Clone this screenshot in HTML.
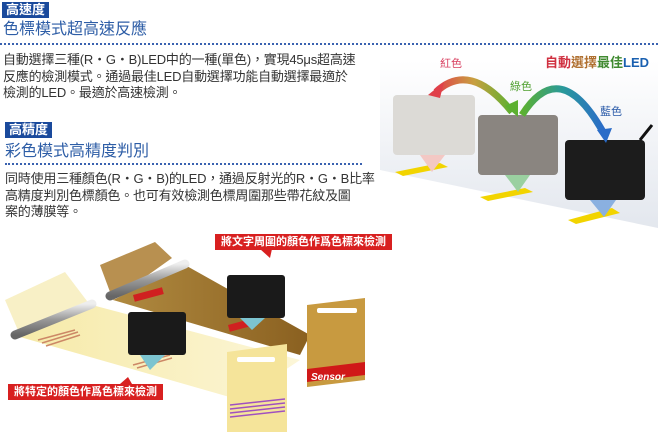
<!DOCTYPE html>
<html><head><meta charset="utf-8"><style>
body{margin:0;width:658px;height:432px;background:#fff;position:relative;overflow:hidden;font-family:"Liberation Sans","Noto Sans CJK TC",sans-serif}
.t{position:absolute;white-space:nowrap}
.tag{position:absolute;background:#1a4a9c;color:#fff;font-weight:bold;font-size:13px;line-height:16px;padding:0 4px}
.h{position:absolute;color:#2d5da6;font-size:16px;line-height:18px;white-space:nowrap}
.p{position:absolute;color:#333;font-size:13px;line-height:16.5px;white-space:nowrap;letter-spacing:-0.2px}
.dot{position:absolute;height:0;border-top:2px dotted #3a62b0}
svg{position:absolute;left:0;top:0}
</style></head><body>
<svg width="658" height="432">
<defs>
<linearGradient id="bg" x1="0" y1="0" x2="0" y2="1"><stop offset="0" stop-color="#fff"/><stop offset="1" stop-color="#e3e7ee"/></linearGradient>
<linearGradient id="a1" x1="0" y1="0" x2="1" y2="0"><stop offset="0" stop-color="#e0404a"/><stop offset="0.5" stop-color="#c8a040"/><stop offset="1" stop-color="#5cb030"/></linearGradient>
<linearGradient id="a2" x1="0" y1="0" x2="1" y2="0"><stop offset="0" stop-color="#5cb030"/><stop offset="0.5" stop-color="#2a9a9a"/><stop offset="1" stop-color="#2a6cc8"/></linearGradient>
<linearGradient id="yl" x1="0" y1="0" x2="1" y2="0"><stop offset="0" stop-color="#f6eaa8"/><stop offset="1" stop-color="#fcf6d8"/></linearGradient>
<linearGradient id="br" x1="0" y1="0" x2="1" y2="0"><stop offset="0" stop-color="#b08a40"/><stop offset="1" stop-color="#8a6020"/></linearGradient>
<linearGradient id="rl" x1="0" y1="0" x2="0" y2="1"><stop offset="0" stop-color="#eee"/><stop offset="0.5" stop-color="#999"/><stop offset="1" stop-color="#666"/></linearGradient>
</defs>
<polygon points="380,60 658,60 658,228 380,170" fill="url(#bg)"/>
<polygon points="395,172 440,163 448,167 403,176" fill="#f2d400"/>
<polygon points="480,197 525,188 533,192 488,201" fill="#f2d400"/>
<polygon points="568,220 612,208 620,213 576,224" fill="#f2d400"/>
<rect x="393" y="95" width="82" height="60" rx="4" fill="#dcdad6"/>
<polygon points="420,155 445,155 432,172" fill="#f3c8c4"/>
<rect x="478" y="115" width="80" height="60" rx="4" fill="#8a8580"/>
<polygon points="505,175 530,175 518,192" fill="#9ad0a0"/>
<rect x="565" y="140" width="80" height="60" rx="4" fill="#1c1c1c"/>
<polygon points="590,200 616,200 604,217" fill="#8ab0e0"/>
<path d="M640,140 L652,125" stroke="#111" stroke-width="3"/>
<path d="M512,112 Q470,60 436,92" stroke="url(#a1)" stroke-width="7" fill="none"/>
<polygon points="428,95 444,82 440,98" fill="#e0404a"/>
<polygon points="518,117 505,106 518,100" fill="#5cb030"/>
<path d="M522,115 Q560,55 603,132" stroke="url(#a2)" stroke-width="7" fill="none"/>
<polygon points="597,130 612,128 606,143" fill="#2a6cc8"/>
<polygon points="5,300 65,272 90,305 20,335" fill="#f6ecb8" opacity="0.8"/>
<polygon points="20,337 92,305 300,360 240,400" fill="url(#yl)"/>
<polygon points="100,265 155,242 172,258 113,300" fill="#b89050"/>
<polygon points="113,300 185,265 310,335 300,355" fill="url(#br)"/>
<path d="M15,335 L92,304" stroke="url(#rl)" stroke-width="9" stroke-linecap="round"/>
<path d="M110,296 L185,264" stroke="url(#rl)" stroke-width="9" stroke-linecap="round"/>
<path d="M38,340 L75,330 M42,343 L78,332 M46,346 L80,335" stroke="#c86" stroke-width="1.5"/>
<path d="M133,365 L170,355 M137,368 L172,358" stroke="#c86" stroke-width="1.5"/>
<rect x="133" y="295" width="30" height="7" fill="#d02020" transform="rotate(-15 133 295)"/>
<rect x="228" y="325" width="30" height="7" fill="#d02020" transform="rotate(-15 228 325)"/>
<rect x="128" y="312" width="58" height="43" rx="3" fill="#1a1a1a"/>
<polygon points="140,355 165,355 150,370" fill="#7cc4d0"/>
<rect x="227" y="275" width="58" height="43" rx="3" fill="#1a1a1a"/>
<polygon points="240,318 265,318 252,330" fill="#7cc4d0"/>
<polygon points="227,352 287,344 287,432 227,432" fill="#f5e49a"/>
<rect x="237" y="357" width="38" height="5" rx="2" fill="#fff"/>
<path d="M230,405 L285,399 M230,409 L285,403 M230,413 L285,407 M230,417 L285,411" stroke="#a050c0" stroke-width="1.5"/>
<polygon points="307,305 365,298 365,380 307,387" fill="#c89a40"/>
<rect x="317" y="308" width="40" height="5" rx="2" fill="#fff"/>
<polygon points="307,369 365,362 365,375 307,382" fill="#d01818"/>
<text x="311" y="380" fill="#fff" font-size="10" font-weight="bold" font-style="italic" font-family="Liberation Sans">Sensor</text>
<polygon points="260,249 272,249 270,258" fill="#d82020"/>
<polygon points="120,384 132,384 128,377" fill="#d82020"/>
</svg>
<div class="tag" style="left:2px;top:2px">高速度</div>
<div class="h" style="left:3px;top:21px">色標模式超高速反應</div>
<div class="dot" style="left:0;top:43px;width:658px"></div>
<div class="p" style="left:3px;top:52px">自動選擇三種(R・G・B)LED中的一種(單色)，實現45μs超高速<br>反應的檢測模式。通過最佳LED自動選擇功能自動選擇最適於<br>檢測的LED。最適於高速檢測。</div>
<div class="tag" style="left:5px;top:122px">高精度</div>
<div class="h" style="left:5px;top:143px">彩色模式高精度判別</div>
<div class="dot" style="left:5px;top:163px;width:357px"></div>
<div class="p" style="left:5px;top:171px">同時使用三種顏色(R・G・B)的LED，通過反射光的R・G・B比率<br>高精度判別色標顏色。也可有效檢測色標周圍那些帶花紋及圖<br>案的薄膜等。</div>
<div class="t" style="left:440px;top:55px;font-size:11px;color:#d84060">紅色</div>
<div class="t" style="left:510px;top:78px;font-size:11px;color:#50a030">綠色</div>
<div class="t" style="left:600px;top:103px;font-size:11px;color:#2a5aa8">藍色</div>
<div class="t" style="left:545px;top:52px;font-size:13px;font-weight:bold;color:#2a8a60"><span style="color:#d03040">自動</span><span style="color:#b07030">選擇</span><span style="color:#408a30">最佳</span><span style="color:#1a60b0">LED</span></div>
<div class="t" style="left:215px;top:234px;background:#d82020;color:#fff;font-size:11px;font-weight:bold;line-height:16px;padding:0 6px">將文字周圍的顏色作爲色標來檢測</div>
<div class="t" style="left:8px;top:384px;background:#d82020;color:#fff;font-size:11px;font-weight:bold;line-height:16px;padding:0 6px">將特定的顏色作爲色標來檢測</div>
</body></html>
